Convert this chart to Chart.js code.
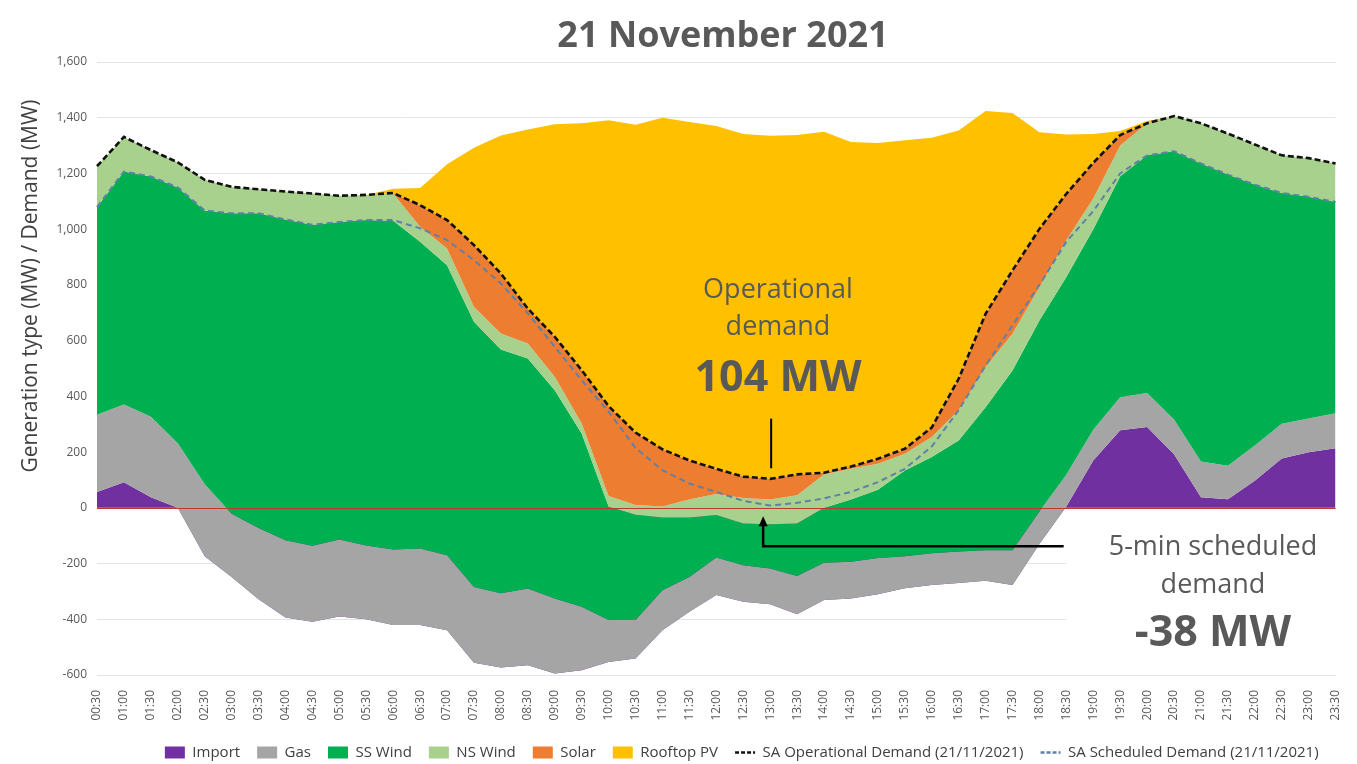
<!DOCTYPE html>
<html>
<head>
<meta charset="utf-8">
<title>21 November 2021</title>
<script src="https://cdn.jsdelivr.net/npm/chart.js@4.4.1/dist/chart.umd.min.js"></script>
<style>
  html, body { margin: 0; padding: 0; background: #fff; }
</style>
</head>
<body>
<canvas id="generation-mix" width="1357" height="764"></canvas>
<script>
const timeLabels = [
  "00:30", "01:00", "01:30", "02:00", "02:30", "03:00", "03:30", "04:00", "04:30", "05:00",
  "05:30", "06:00", "06:30", "07:00", "07:30", "08:00", "08:30", "09:00", "09:30", "10:00",
  "10:30", "11:00", "11:30", "12:00", "12:30", "13:00", "13:30", "14:00", "14:30", "15:00",
  "15:30", "16:00", "16:30", "17:00", "17:30", "18:00", "18:30", "19:00", "19:30", "20:00",
  "20:30", "21:00", "21:30", "22:00", "22:30", "23:00", "23:30"
];

// MW per half hour (negative import = export)
const importMW = [57, 92, 38, 0, -174, -248, -328, -394, -409, -390, -400, -421, -421, -439, -556, -573, -565, -595, -583, -553, -541, -439, -373, -313, -337, -346, -382, -331, -325, -310, -289, -277, -270, -262, -277, -130, 5, 170, 278, 290, 192, 38, 31, 97, 177, 199, 214];
const gasMW = [277, 279, 289, 232, 259, 227, 256, 278, 273, 276, 265, 271, 275, 269, 272, 266, 275, 270, 228, 150, 138, 143, 125, 135, 131, 128, 137, 134, 131, 130, 115, 114, 113, 110, 125, 117, 114, 110, 119, 122, 125, 128, 120, 127, 125, 122, 125];
const ssWindMW = [745, 836, 862, 918, 982, 1078, 1129, 1151, 1152, 1140, 1168, 1180, 1101, 1041, 952, 875, 826, 747, 622, 408, 378, 261, 213, 152, 150, 159, 189, 197, 224, 245, 308, 345, 399, 513, 645, 685, 709, 720, 793, 853, 963, 1070, 1045, 936, 828, 795, 759];
const nsWindMW = [147, 124, 95, 90, 110, 95, 86, 100, 112, 94, 90, 98, 54, 60, 53, 58, 54, 48, 36, 37, 35, 40, 65, 76, 91, 89, 101, 120, 110, 93, 60, 72, 108, 144, 132, 120, 132, 110, 110, 115, 126, 144, 147, 144, 135, 139, 138];
const solarMW = [0, 0, 0, 0, 0, 0, 0, 0, 0, 0, 0, 2, 77, 102, 222, 215, 125, 144, 191, 323, 260, 205, 140, 90, 77, 74, 75, 6, 8, 18, 18, 34, 113, 191, 227, 209, 167, 128, 38, 0, 0, 0, 0, 0, 0, 0, 0];
const rooftopPvMW = [0, 0, 0, 0, 0, 0, 0, 0, 0, 0, 0, 15, 62, 200, 349, 495, 643, 763, 886, 1026, 1105, 1190, 1215, 1230, 1230, 1231, 1218, 1224, 1165, 1133, 1107, 1040, 891, 728, 565, 347, 213, 104, 14, 8, 0, 0, 0, 0, 0, 0, 0];
const opDemandMW = [1226, 1331, 1284, 1240, 1177, 1152, 1143, 1135, 1128, 1120, 1123, 1130, 1086, 1033, 943, 841, 715, 614, 494, 365, 270, 210, 170, 140, 112, 104, 120, 126, 148, 176, 212, 288, 463, 696, 852, 1001, 1127, 1238, 1338, 1380, 1406, 1380, 1343, 1304, 1265, 1255, 1236];
const schedDemandMW = [1079, 1207, 1189, 1150, 1067, 1057, 1057, 1035, 1016, 1026, 1033, 1033, 1003, 961, 889, 805, 698, 578, 458, 345, 215, 135, 87, 57, 25, 8, 18, 34, 57, 92, 140, 220, 350, 510, 655, 800, 955, 1065, 1200, 1265, 1280, 1236, 1196, 1160, 1130, 1116, 1098];

const FONT = '"Open Sans", "Liberation Sans", sans-serif';
const TEXT_GREY = "#595959";

const areaSeries = [
  { label: "Import", values: importMW, colour: "#7030a0" },
  { label: "Gas", values: gasMW, colour: "#a5a5a5" },
  { label: "SS Wind", values: ssWindMW, colour: "#00b050" },
  { label: "NS Wind", values: nsWindMW, colour: "#a9d18e" },
  { label: "Solar", values: solarMW, colour: "#ed7d31" },
  { label: "Rooftop PV", values: rooftopPvMW, colour: "#ffc000" },
];

// excel-style stacking: every series sits on the running total of the ones before it
function runningTotals(seriesList) {
  const totals = [];
  let prev = seriesList[0].map(() => 0);
  for (const series of seriesList) {
    prev = series.map((v, i) => prev[i] + v);
    totals.push(prev);
  }
  return totals;
}

const stackedTops = runningTotals(areaSeries.map(s => s.values));

const datasets = areaSeries.map((s, i) => ({
  label: s.label,
  data: stackedTops[i],
  backgroundColor: s.colour,
  borderColor: "rgba(0,0,0,0)",
  borderWidth: 0,
  pointRadius: 0,
  tension: 0,
  fill: i === 0 ? "origin" : "-1",
  order: 10 - i, // import painted first, rooftop last
  pointStyle: "rect",
}));

datasets.push({
  label: "SA Operational Demand (21/11/2021)",
  data: opDemandMW,
  borderColor: "#111111",
  backgroundColor: "#111111",
  borderWidth: 2.6,
  borderDash: [6, 3],
  fill: false,
  pointRadius: 0,
  tension: 0,
  order: 1,
  pointStyle: "line",
});
datasets.push({
  label: "SA Scheduled Demand (21/11/2021)",
  data: schedDemandMW,
  borderColor: "#5f81a8",
  backgroundColor: "#5f81a8",
  borderWidth: 2,
  borderDash: [6, 4],
  fill: false,
  pointRadius: 0,
  tension: 0,
  order: 0,
  pointStyle: "line",
});

const notes = {
  id: "notes",
  beforeDatasetsDraw(chart) {
    // the text box on the right hides the gridlines behind it
    const { ctx, scales: { x, y } } = chart;
    const left = x.getPixelForValue(36);
    const top = y.getPixelForValue(-25);
    ctx.save();
    ctx.fillStyle = "#ffffff";
    ctx.fillRect(left, top, chart.width - left, y.getPixelForValue(-570) - top);
    ctx.restore();
  },
  afterDatasetsDraw(chart) {
    const { ctx, chartArea, scales: { x, y } } = chart;
    ctx.save();

    // zero line
    const y0 = Math.round(y.getPixelForValue(0)) + 0.5;
    ctx.strokeStyle = "#c0392b";
    ctx.lineWidth = 1.2;
    ctx.beginPath();
    ctx.moveTo(chartArea.left, y0);
    ctx.lineTo(chartArea.right, y0);
    ctx.stroke();

    // operational demand marker
    const xMin = x.getPixelForValue(25);
    ctx.strokeStyle = "#000";
    ctx.lineWidth = 2;
    ctx.beginPath();
    ctx.moveTo(xMin + 1, y.getPixelForValue(320));
    ctx.lineTo(xMin + 1, y.getPixelForValue(142));
    ctx.stroke();

    // scheduled demand arrow
    const arrowX = xMin - 7;
    const arrowY = y.getPixelForValue(-138);
    const tipY = y.getPixelForValue(-30);
    ctx.lineWidth = 2.5;
    ctx.beginPath();
    ctx.moveTo(x.getPixelForValue(35.9), arrowY);
    ctx.lineTo(arrowX, arrowY);
    ctx.lineTo(arrowX, tipY + 8);
    ctx.stroke();
    ctx.fillStyle = "#000";
    ctx.beginPath();
    ctx.moveTo(arrowX, tipY);
    ctx.lineTo(arrowX - 4.5, tipY + 10);
    ctx.lineTo(arrowX + 4.5, tipY + 10);
    ctx.closePath();
    ctx.fill();

    ctx.fillStyle = TEXT_GREY;
    ctx.textAlign = "center";
    ctx.textBaseline = "alphabetic";
    ctx.font = "27px " + FONT;
    ctx.fillText("Operational", 778, 298);
    ctx.fillText("demand", 778, 335);
    ctx.font = "bold 43px " + FONT;
    ctx.fillText("104 MW", 778, 391);

    ctx.font = "27px " + FONT;
    ctx.fillText("5-min scheduled", 1213, 555);
    ctx.fillText("demand", 1213, 593);
    ctx.font = "bold 43px " + FONT;
    ctx.fillText("-38 MW", 1213, 646);
    ctx.restore();
  },
  afterDraw(chart) {
    const { ctx } = chart;
    ctx.save();
    ctx.fillStyle = TEXT_GREY;
    ctx.textAlign = "center";
    ctx.font = "bold 36px " + FONT;
    ctx.fillText("21 November 2021", 723, 37);

    ctx.translate(31, 286);
    ctx.rotate(-Math.PI / 2);
    ctx.fillStyle = "#404040";
    ctx.font = "21px " + FONT;
    ctx.textBaseline = "middle";
    ctx.fillText("Generation type (MW) / Demand (MW)", 0, 0);
    ctx.restore();
  },
};

Chart.defaults.font.family = FONT;
Chart.defaults.color = TEXT_GREY;

new Chart(document.getElementById("generation-mix"), {
  type: "line",
  data: { labels: timeLabels, datasets },
  plugins: [notes],
  options: {
    responsive: false,
    animation: false,
    events: [],
    layout: { padding: { top: 62, right: 20, bottom: -6, left: 0 } },
    scales: {
      x: {
        type: "category",
        offset: false,
        grid: { display: false },
        border: { display: false },
        ticks: {
          autoSkip: false,
          minRotation: 90,
          maxRotation: 90,
          padding: 7,
          font: { size: 12 },
          color: TEXT_GREY,
        },
        afterFit(scale) { scale.height = 53; },
      },
      y: {
        min: -600,
        max: 1600,
        border: { display: false },
        grid: { color: "#e4e4e4", drawTicks: false },
        ticks: {
          stepSize: 200,
          padding: 10,
          font: { size: 12 },
          color: TEXT_GREY,
          callback: v => v.toLocaleString("en-US"),
        },
        afterFit(scale) { scale.width = 97; },
      },
    },
    plugins: {
      title: { display: false },
      tooltip: { enabled: false },
      legend: {
        position: "bottom",
        fullSize: false,
        align: "end",
        labels: {
          usePointStyle: true,
          pointStyleWidth: 20,
          boxHeight: 12,
          padding: 17,
          color: "#404040",
          font: { size: 15 },
          generateLabels(chart) {
            return chart.data.datasets.map((ds, i) => ({
              text: ds.label,
              fillStyle: ds.backgroundColor,
              strokeStyle: ds.borderColor,
              lineWidth: ds.fill === false ? 2.5 : 0,
              lineDash: ds.fill === false ? [4, 2] : [],
              pointStyle: ds.pointStyle,
              fontColor: "#404040",
              hidden: false,
              datasetIndex: i,
            }));
          },
        },
      },
    },
  },
});
</script>
</body>
</html>
